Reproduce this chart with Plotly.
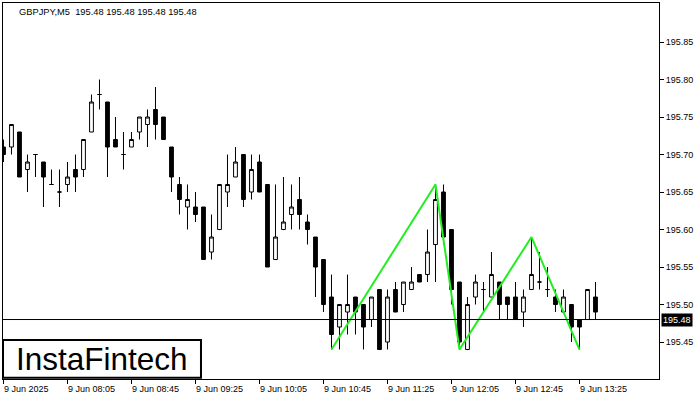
import plotly.graph_objects as go

# ---- data (GBPJPY, M5) ----
opens = [195.71, 195.71, 195.73, 195.68, 195.70, 195.69, 195.66, 195.65, 195.66, 195.68,
         195.68, 195.73, 195.78, 195.77, 195.72, 195.70, 195.71, 195.73, 195.74, 195.76,
         195.75, 195.71, 195.66, 195.63, 195.63, 195.63, 195.57, 195.60, 195.65, 195.67,
         195.70, 195.65, 195.69, 195.66, 195.56, 195.60, 195.62, 195.64, 195.61, 195.59,
         195.56, 195.51, 195.47, 195.49, 195.51, 195.50, 195.48, 195.52, 195.45, 195.52,
         195.50, 195.52, 195.54, 195.54, 195.58, 195.65, 195.60, 195.53, 195.44, 195.51,
         195.52, 195.51, 195.53, 195.51, 195.51, 195.49, 195.52, 195.53, 195.52, 195.51,
         195.49, 195.50, 195.48, 195.48, 195.51]
highs = [195.72, 195.74, 195.73, 195.70, 195.70, 195.69, 195.68, 195.68, 195.69, 195.70,
         195.72, 195.78, 195.80, 195.77, 195.75, 195.73, 195.73, 195.75, 195.76, 195.79,
         195.75, 195.71, 195.67, 195.66, 195.65, 195.63, 195.62, 195.66, 195.70, 195.71,
         195.70, 195.70, 195.70, 195.66, 195.66, 195.67, 195.66, 195.67, 195.62, 195.59,
         195.56, 195.54, 195.50, 195.54, 195.51, 195.50, 195.51, 195.52, 195.52, 195.53,
         195.53, 195.55, 195.54, 195.60, 195.66, 195.66, 195.60, 195.53, 195.51, 195.54,
         195.53, 195.57, 195.53, 195.51, 195.53, 195.52, 195.59, 195.57, 195.55, 195.52,
         195.52, 195.50, 195.48, 195.52, 195.53]
lows = [195.69, 195.70, 195.67, 195.65, 195.67, 195.63, 195.66, 195.63, 195.65, 195.65,
        195.67, 195.73, 195.76, 195.67, 195.71, 195.68, 195.71, 195.72, 195.71, 195.72,
        195.72, 195.65, 195.62, 195.60, 195.61, 195.56, 195.56, 195.60, 195.63, 195.67,
        195.63, 195.64, 195.65, 195.55, 195.56, 195.60, 195.60, 195.60, 195.58, 195.51,
        195.49, 195.44, 195.44, 195.46, 195.46, 195.44, 195.47, 195.44, 195.44, 195.49,
        195.49, 195.52, 195.53, 195.53, 195.53, 195.58, 195.50, 195.44, 195.44, 195.50,
        195.49, 195.51, 195.48, 195.48, 195.48, 195.47, 195.52, 195.52, 195.51, 195.49,
        195.49, 195.45, 195.44, 195.48, 195.48]
closes = [195.70, 195.74, 195.67, 195.69, 195.70, 195.67, 195.66, 195.65, 195.67, 195.67,
          195.72, 195.77, 195.78, 195.71, 195.71, 195.70, 195.72, 195.75, 195.75, 195.74,
          195.72, 195.67, 195.64, 195.64, 195.62, 195.56, 195.59, 195.66, 195.66, 195.69,
          195.64, 195.68, 195.65, 195.55, 195.59, 195.61, 195.63, 195.62, 195.60, 195.55,
          195.50, 195.46, 195.50, 195.50, 195.49, 195.47, 195.51, 195.44, 195.51, 195.49,
          195.53, 195.53, 195.53, 195.57, 195.64, 195.59, 195.52, 195.45, 195.50, 195.53,
          195.52, 195.54, 195.50, 195.50, 195.48, 195.51, 195.54, 195.53, 195.52, 195.50,
          195.51, 195.47, 195.47, 195.52, 195.49]

tick_idx = [0, 8, 16, 24, 32, 40, 48, 56, 64, 72]
tick_labels = ["9 Jun 2025", "9 Jun 08:05", "9 Jun 08:45", "9 Jun 09:25", "9 Jun 10:05",
               "9 Jun 10:45", "9 Jun 11:25", "9 Jun 12:05", "9 Jun 12:45", "9 Jun 13:25"]
price_ticks = [195.45, 195.50, 195.55, 195.60, 195.65, 195.70, 195.75, 195.80, 195.85]

pattern_idx = [41, 54, 57, 66, 72]
pattern_price = [195.44, 195.66, 195.44, 195.59, 195.44]

current_price = 195.48
title_text = "GBPJPY,M5  195.48 195.48 195.48 195.48"
logo_text = "InstaFintech"

FONT = "Liberation Sans"

x = list(range(len(opens)))

fig = go.Figure()
fig.add_trace(go.Candlestick(
    x=x, open=opens, high=highs, low=lows, close=closes,
    increasing=dict(line=dict(color="black", width=1), fillcolor="white"),
    decreasing=dict(line=dict(color="black", width=1), fillcolor="black"),
    whiskerwidth=0, showlegend=False, hoverinfo="skip",
))
fig.add_trace(go.Scatter(
    x=pattern_idx, y=pattern_price, mode="lines",
    line=dict(color="#22ee22", width=2), showlegend=False, hoverinfo="skip",
))

fig.add_shape(type="line", xref="paper", x0=0, x1=1, yref="y",
              y0=current_price, y1=current_price, line=dict(color="black", width=1))

# logo box
fig.add_shape(type="rect", xref="paper", yref="paper", x0=0.0, x1=0.3018,
              y0=0.003, y1=0.1037, fillcolor="white", line=dict(color="black", width=2),
              layer="above")
fig.add_annotation(xref="paper", yref="paper", x=0.1509, y=0.053, text=logo_text,
                   showarrow=False, xanchor="center", yanchor="middle",
                   font=dict(family=FONT, size=31.5, color="black"))

# title
fig.add_annotation(xref="paper", yref="paper", x=0, y=1, xshift=14, yshift=-9,
                   text=title_text, showarrow=False, xanchor="left", yanchor="middle",
                   font=dict(family=FONT, size=9.3, color="black"))

# x labels
for i, lab in zip(tick_idx, tick_labels):
    fig.add_annotation(xref="x", yref="paper", x=i, y=0, yshift=-3, xshift=-1,
                       text=lab, showarrow=False, xanchor="left", yanchor="top",
                       font=dict(family=FONT, size=9, color="black"))

# current price label
fig.add_annotation(xref="paper", yref="y", x=1, y=current_price, xshift=2,
                   text=f"{current_price:.2f}", showarrow=False, xanchor="left",
                   yanchor="middle", bgcolor="black", borderpad=1,
                   font=dict(family=FONT, size=9, color="white"))

fig.update_layout(
    width=700, height=400,
    margin=dict(l=3, r=41, t=3, b=21),
    paper_bgcolor="white", plot_bgcolor="white",
    boxgap=0.32,
    font=dict(family=FONT, size=9, color="black"),
    xaxis=dict(range=[-0.06, 81.94], rangeslider=dict(visible=False),
               showgrid=False, zeroline=False, showline=True, mirror=True,
               linecolor="black", linewidth=1, ticks="outside", ticklen=4,
               tickcolor="black", tickvals=tick_idx, showticklabels=False),
    yaxis=dict(range=[195.4007, 195.902], side="right", showgrid=False,
               zeroline=False, showline=True, mirror=True, linecolor="black",
               linewidth=1, ticks="outside", ticklen=4, tickcolor="black",
               tickvals=price_ticks, ticktext=[f"{v:.2f}" for v in price_ticks],
               tickfont=dict(family=FONT, size=9, color="black")),
)

fig.write_html(
    "out.html",
    config={"displayModeBar": False},
    post_script="document.body.style.margin='0';document.body.style.overflow='hidden';",
)
